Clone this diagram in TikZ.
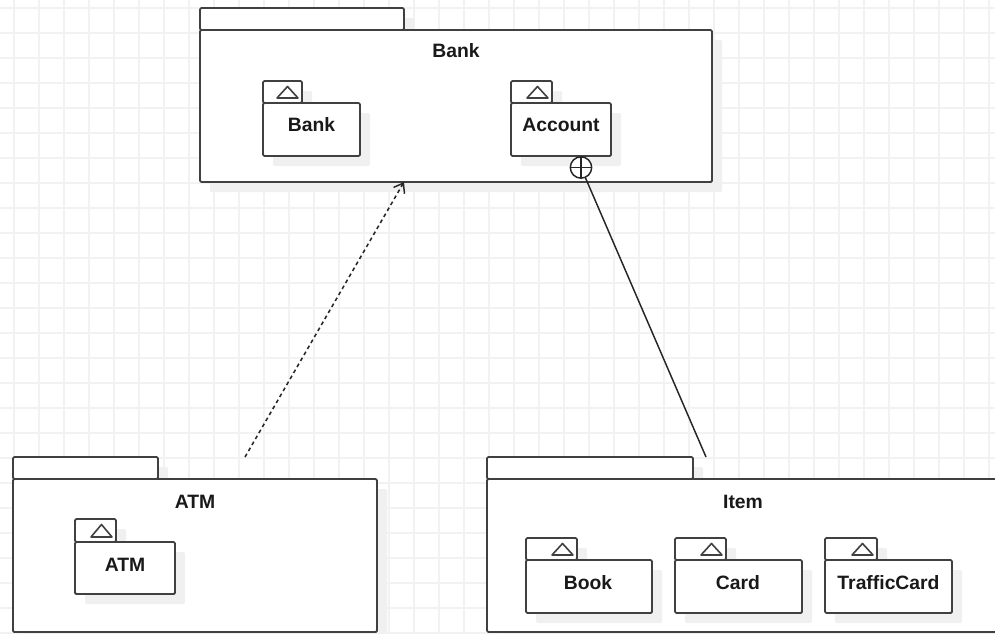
\documentclass[tikz,border=0pt]{standalone}
\usepackage{fontspec}
\setmainfont{Liberation Sans}
\usetikzlibrary{fit,shadows,arrows.meta,calc}
\tikzset{
  outline/.style={draw=black!75, line width=1.4pt, rounded corners=1pt},
  pkgshape/.style={outline, fill=white, inner sep=0pt, outer sep=0pt,
    drop shadow={shadow xshift=7.5pt, shadow yshift=-7.5pt, fill=black!6, opacity=1}},
  gridline/.style={draw=black!5, line width=1.1pt},
  lbl/.style={font=\fontsize{14.5}{17}\selectfont\bfseries, text=black!90, anchor=base, inner sep=0pt},
  icon/.style={draw=black!75, line width=1.2pt, line join=round},
  depline/.style={draw=black!85, line width=1.15pt, dash pattern=on 2.8pt off 2.4pt,
    -{Straight Barb[length=6.5pt,width=9.5pt,line width=1.1pt]}},
  nestline/.style={draw=black!85, line width=1.1pt},
  nestmark/.style={circle, draw=black!85, line width=1.1pt, fill=white, minimum size=16pt, inner sep=0pt},
}
\newcommand\umlpkg[7]{% name, x1, tabtop, tabright, bodytop, x2, y2
  \node[pkgshape, fit={(#2,#3)(#4,#5)}] (#1tab) {};
  \node[pkgshape, fit={(#2,#5)(#6,#7)}] (#1) {};
}
\newcommand\pkgicon[3]{% tabright, tabtop, tabbottom
  \draw[icon] (#1-25,#3-5) -- (#1-4,#3-5) -- (#1-14.5,#2+5.5) -- cycle;
}
\begin{document}
\begin{tikzpicture}[x=0.75pt,y=-0.75pt]
\useasboundingbox (0,0) rectangle (995,633);
\clip (0,0) rectangle (995,633);
\fill[white] (0,0) rectangle (995,633);
% grid
\foreach \gx in {14,39,...,989} \draw[gridline] (\gx,0) -- (\gx,633);
\foreach \gy in {8,33,...,633} \draw[gridline] (0,\gy) -- (995,\gy);

% Bank package
\umlpkg{bank}{200}{8}{404}{30}{712}{182}
\node[lbl] (banktitle) at (456,57) {Bank};
\umlpkg{bankinner}{263}{81}{302}{103}{360}{156}
\pkgicon{302}{81}{103}
\node[lbl] (bankinnerlbl) at (311.5,131) {Bank};
\umlpkg{account}{511}{81}{552}{103}{611}{156}
\pkgicon{552}{81}{103}
\node[lbl] (accountlbl) at (561,131) {Account};

% ATM package
\umlpkg{atm}{13}{457}{158}{479}{377}{632}
\node[lbl] (atmtitle) at (195,508) {ATM};
\umlpkg{atminner}{75}{519}{116}{542}{175}{594}
\pkgicon{116}{519}{542}
\node[lbl] (atminnerlbl) at (125,571) {ATM};

% Item package
\umlpkg{item}{487}{457}{693}{479}{999}{632}
\node[lbl] (itemtitle) at (743,508) {Item};
\umlpkg{book}{526}{538}{577}{560}{652}{613}
\pkgicon{577}{538}{560}
\node[lbl] (booklbl) at (588,589) {Book};
\umlpkg{card}{675}{538}{726}{560}{802}{613}
\pkgicon{726}{538}{560}
\node[lbl] (cardlbl) at (738,589) {Card};
\umlpkg{traffic}{825}{538}{877}{560}{952}{613}
\pkgicon{877}{538}{560}
\node[lbl] (trafficlbl) at (888.5,589) {TrafficCard};

% dependency ATM -> Bank
\coordinate (atmend) at (245,457);
\coordinate (bankin) at ($(bank.south west)!0.3984!(bank.south east)$);
\draw[depline] (atmend) -- (bankin);

% nesting Account -> Item
\node[nestmark] (nest) at (581,167.5) {};
\draw[nestline] (nest.north) -- (nest.south);
\draw[nestline] (nest.west) -- (nest.east);
\coordinate (itemend) at (706,457);
\draw[nestline] (nest) -- (itemend);
\end{tikzpicture}
\end{document}
